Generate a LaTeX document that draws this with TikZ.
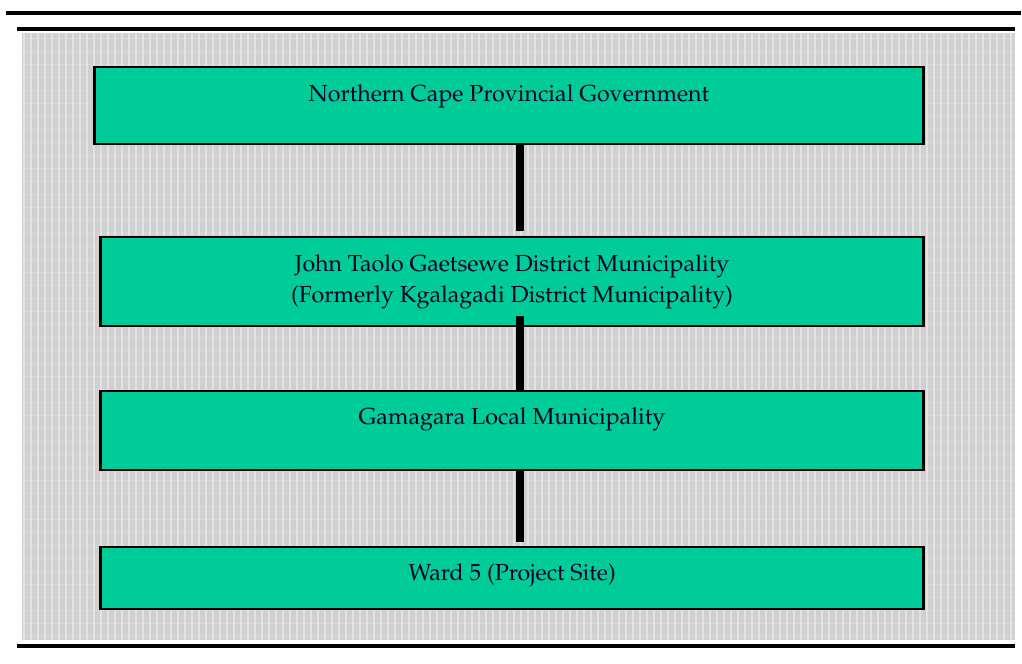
\documentclass[tikz,border=0pt]{standalone}
\usepackage[T1]{fontenc}
\usepackage{mathpazo}
\definecolor{boxgreen}{RGB}{0,204,153}
\definecolor{panelgrey}{RGB}{208,208,208}

\begin{document}
\begin{tikzpicture}[x=0.025cm, y=-0.025cm, line width=.5pt,
  rule/.style={line width=3.3pt},
  tier/.style={draw=black, line width=2pt, fill=boxgreen, minimum width=20.55cm,
    font=\fontsize{16.5}{22}\selectfont, text=black!85!blue},
  link/.style={line width=5.7pt}]
  \useasboundingbox (0,0) rectangle (1022,664);
  % rules round the panel
  \draw[rule] (6,13) -- (1021,13);
  \draw[rule] (17,29) -- (1015,29);
  \draw[rule] (17,646) -- (1015,646);
  % grey panel
  \fill[panelgrey] (22,33) rectangle (1015,640);
  \begin{scope}
    \clip (22,33) rectangle (1015,640);
    \foreach \i in {24,31,...,1015}
      \draw[white, opacity=.4, line width=1pt] (\i,33) -- (\i,640);
    \foreach \j in {38,51,...,640}
      \draw[white, opacity=.15, line width=.5pt] (22,\j) -- (1015,\j);
  \end{scope}
  % tiers
  \node[tier, minimum width=20.7cm, minimum height=1.925cm, text height=12pt, text depth=18pt]
    (ncpg) at (509,105.5) {Northern Cape Provincial Government};
  \node[tier, minimum height=2.225cm, align=center]
    (jtgdm) at (512,281.5) {John Taolo Gaetsewe District Municipality\\(Formerly Kgalagadi District Municipality)};
  \node[tier, minimum height=1.975cm, text height=12pt, text depth=21pt]
    (glm) at (512,430.5) {Gamagara Local Municipality};
  \node[tier, minimum height=1.55cm, text height=12pt, text depth=9pt]
    (ward) at (512,578) {Ward 5 (Project Site)};
  % links
  \coordinate (spine) at (520,0);
  \draw[link] (ncpg.south -| spine) -- ([yshift=.125cm]jtgdm.north -| spine);
  \draw[link] ([yshift=.275cm]jtgdm.south -| spine) -- (glm.north -| spine);
  \draw[link] (glm.south -| spine) -- ([yshift=.1cm]ward.north -| spine);
\end{tikzpicture}
\end{document}
